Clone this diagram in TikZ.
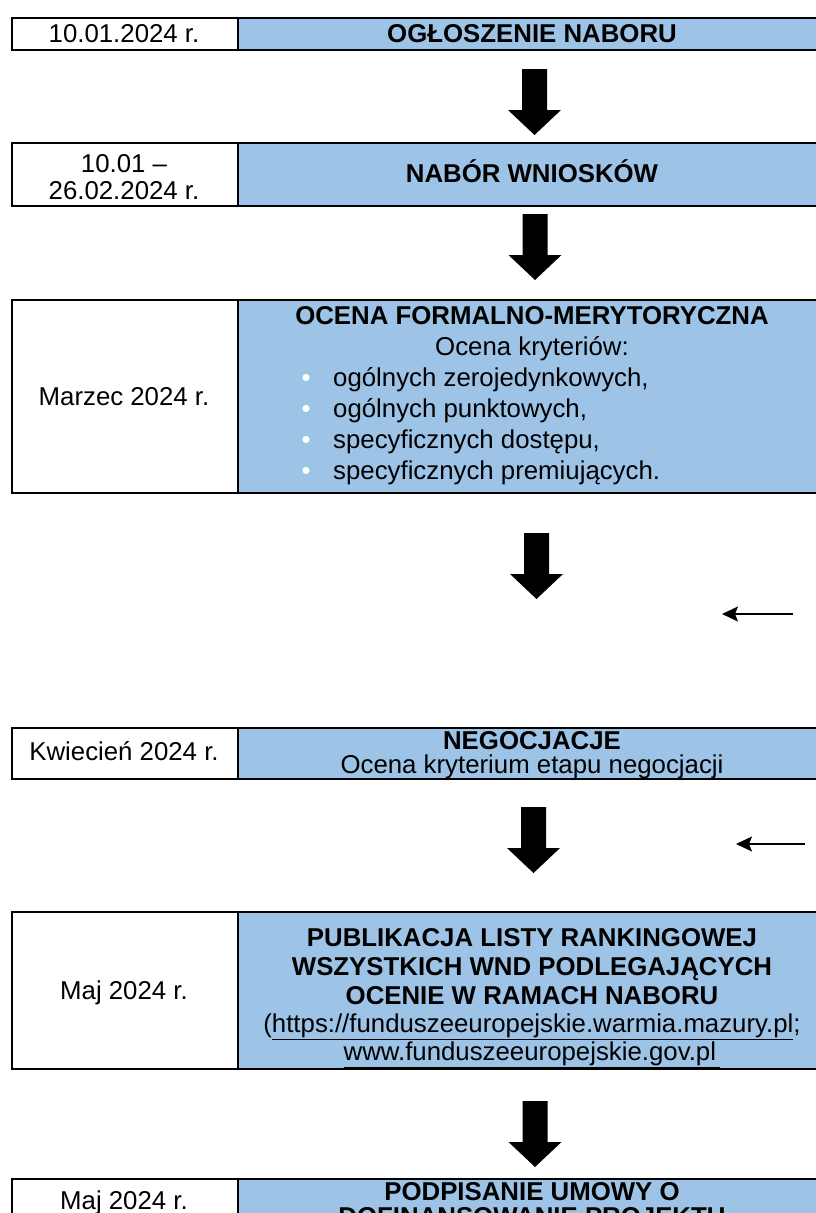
\documentclass[tikz,border=0pt]{standalone}
\usepackage{fontspec}
\setmainfont{Liberation Sans}
\usetikzlibrary{arrows.meta}
\definecolor{cellblue}{HTML}{9DC3E6}
\newcommand\mkrow[3]{% name, top, bottom
  \node[datecell, minimum width=226, minimum height={#3-#2}, anchor=north west] (d#1) at (11,#2) {};
  \node[maincell, minimum width=590, minimum height={#3-#2}, anchor=north west] (m#1) at (237,#2) {};
}
\newcommand\blt{\llap{\textcolor{white}{\textbullet}\hspace{22.5pt}}}
\begin{document}
\begin{tikzpicture}[x=1pt,y=-1pt,
  cell/.style={draw=black, line width=2pt, rectangle, inner sep=0pt},
  datecell/.style={cell, fill=white},
  maincell/.style={cell, fill=cellblue},
  txt/.style={anchor=base, inner sep=0pt, font=\fontsize{25.8}{31}\selectfont},
  btxt/.style={txt, font=\fontsize{25.8}{31}\selectfont\bfseries},
  ltxt/.style={txt, anchor=base west},
  blockarrow/.pic={\fill[black] (-12.5,0) -- (12.5,0) -- (12.5,41) -- (26.5,41) -- (0,66) -- (-26.5,41) -- (-12.5,41) -- cycle;},
  thinarrow/.style={line width=1.6pt, -{Stealth[length=16pt,width=15pt,inset=3pt]}}
]
\useasboundingbox (0,0) rectangle (816,1213);

% rows
\mkrow{1}{17}{49}
\mkrow{2}{142}{205}
\mkrow{3}{299}{492}
\mkrow{4}{727}{778}
\mkrow{5}{911}{1068}
\mkrow{6}{1178}{1260}

% row 1
\node[txt] (d1t) at (124,42) {10.01.2024 r.};
\node[btxt] (m1t) at (532,42) {OGŁOSZENIE NABORU};

% row 2
\node[txt] (d2a) at (124,172) {10.01 –};
\node[txt] (d2b) at (124,199) {26.02.2024 r.};
\node[btxt] (m2t) at (532,182) {NABÓR WNIOSKÓW};

% row 3
\node[txt] (d3t) at (124,405) {Marzec 2024 r.};
\node[btxt] (m3a) at (532,324) {OCENA FORMALNO-MERYTORYCZNA};
\node[txt] (m3b) at (532,355) {Ocena kryteriów:};
\node[ltxt] (m3c) at (333,386) {\blt ogólnych zerojedynkowych,};
\node[ltxt] (m3d) at (333,417) {\blt ogólnych punktowych,};
\node[ltxt] (m3e) at (333,448) {\blt specyficznych dostępu,};
\node[ltxt] (m3f) at (333,479) {\blt specyficznych premiujących.};

% row 4
\node[txt] (d4t) at (124,760) {Kwiecień 2024 r.};
\node[btxt] (m4a) at (532,749) {NEGOCJACJE};
\node[txt] (m4b) at (532,773) {Ocena kryterium etapu negocjacji};

% row 5
\node[txt] (d5t) at (124,999) {Maj 2024 r.};
\node[btxt] (m5a) at (532,946) {PUBLIKACJA LISTY RANKINGOWEJ};
\node[btxt] (m5b) at (532,975) {WSZYSTKICH WND PODLEGAJĄCYCH};
\node[btxt] (m5c) at (532,1004) {OCENIE W RAMACH NABORU};
\node[txt] (m5d) at (532,1032) {(\underline{https://funduszeeuropejskie.warmia.mazury.pl};};
\node[txt] (m5e) at (532,1060) {\underline{www.funduszeeuropejskie.gov.pl\,}};

% row 6
\node[txt] (d6t) at (124,1209) {Maj 2024 r.};
\node[btxt] (m6a) at (532,1200) {PODPISANIE UMOWY O};
\node[btxt] (m6b) at (532,1225) {DOFINANSOWANIE PROJEKTU};

% block arrows
\pic at (534.5,69) {blockarrow};
\pic at (535,214) {blockarrow};
\pic at (536.5,533) {blockarrow};
\pic at (533.5,807) {blockarrow};
\pic at (535,1101) {blockarrow};

% thin arrows
\coordinate (p1s) at (793,614);
\coordinate (p1e) at (722,614);
\draw[thinarrow] (p1s) -- (p1e);
\coordinate (p2s) at (805,844);
\coordinate (p2e) at (736,844);
\draw[thinarrow] (p2s) -- (p2e);
\end{tikzpicture}
\end{document}
